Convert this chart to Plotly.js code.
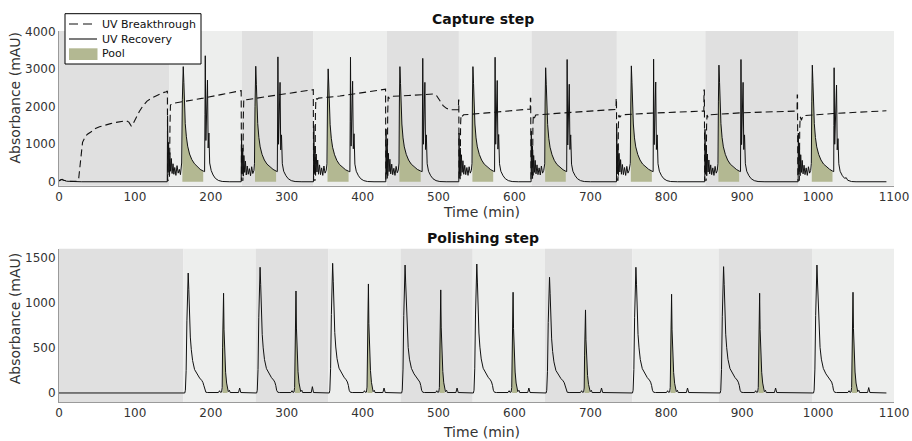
<!DOCTYPE html>
<html><head><meta charset="utf-8">
<script src="https://cdn.plot.ly/plotly-3.0.1.min.js"></script>
<style>html,body{margin:0;padding:0;background:#fff;}#chart{width:912px;height:441px;}</style>
</head><body><div id="chart"></div>
<script>
// ---------- Capture step: UV Breakthrough (time, mAU) ----------
const capBreakC0 = [[0,30],[3,60],[6,40],[10,20],[15,10],[20,10],[24,15],[26,100],[27.5,450],[29,800],[31,1050],[33.6,1157],[37,1260],[42.4,1333],[48,1420],[53.4,1467],[60,1510],[68,1550],[75.4,1583],[82,1610],[88.6,1630],[92,1590],[95.2,1485],[98,1560],[101.8,1733],[106,1880],[110.5,2019],[116,2150],[123.7,2250],[130,2320],[136,2370],[141.3,2400],[142.8,2420]];
const capBreakC1 = [[143.1,40],[145.5,40],[146.2,1500],[146.8,2045],[150,2090],[163,2133],[190,2230],[215,2330],[238,2419],[240,2430]];
const capBreakC2 = [[240.4,40],[242.3,40],[242.8,1700],[243.4,2180],[245,2150],[247,2185],[270,2260],[300,2350],[332.4,2445],[335,2455]];
const capBreakC3 = [[335.4,40],[337.3,40],[337.8,1800],[338.4,2224],[340,2200],[342,2230],[370,2285],[400,2380],[427,2464],[430.2,2470]];
const capBreakC4 = [[430.6,40],[432.5,40],[433,1800],[433.6,2267],[435,2230],[437,2275],[460,2300],[493,2340],[497,2310],[501.6,2179],[506,2030],[510.4,1957],[516,1918],[524,1920],[526.2,1925],[526.4,2180],[526.7,2180]];
const capBreakC5 = [[527,40],[528.5,40],[529,1500],[529.6,1779],[531,1740],[533,1785],[560,1830],[590,1880],[620.8,1939],[621,2224],[621.4,2224]];
const capBreakC6 = [[621.8,40],[623.8,40],[624.3,1500],[624.9,1779],[626.3,1700],[628,1780],[660,1830],[700,1880],[733.8,1930],[734,2224],[734.4,2224]];
const capBreakC7 = [[734.8,40],[736.4,40],[736.9,1500],[737.5,1779],[739,1720],[741,1785],[780,1830],[820,1865],[849.5,1885],[849.7,2445],[850.2,2445]];
const capBreakC8 = [[850.6,40],[852.6,40],[853.1,1500],[853.7,1779],[855,1720],[857,1785],[900,1840],[940,1870],[972.3,1885],[972.5,2312],[972.9,2312]];
const capBreakC9 = [[973.3,40],[975.3,40],[975.8,1400],[976.4,1734],[978,1640],[980,1760],[1020,1820],[1060,1860],[1090,1893]];

// ---------- Capture step: UV Recovery (time, mAU) ----------
const capRecBase = [[0,20],[2,45],[4,70],[6,45],[8,30],[10,15],[14,10],[20,5],[30,0],[142.6,0]];
const capRecC1 = [[143,1750],[143.7,250],[144.4,1050],[145.2,180],[146,780],[147,280],[148,620],[149,220],[150.2,480],[151.3,200],[152.5,380],[154,170],[155.5,430],[157,230],[158.5,330],[160,190],[161.6,500],[162.5,2200],[163.7,3070],[164.5,2650],[165.3,2000],[166.3,1550],[167.8,1200],[169.5,950],[172,740],[175,590],[178.5,480],[182,400],[186,330],[190,285],[191.8,270],[192.3,1800],[192.7,3360],[193.5,1100],[194.5,2000],[195.6,2710],[196.5,900],[197.5,1300],[198.5,500],[200.5,300],[203,180],[206,90],[210,35],[215,8],[225,0],[240,0]];
const capRecC2 = [[240.5,1250],[241.2,200],[242,900],[242.8,150],[243.6,700],[244.6,250],[245.6,550],[246.7,180],[248,420],[249.3,200],[250.8,350],[252.3,160],[253.8,400],[255.3,220],[256.8,300],[257.5,480],[258.2,2000],[259.2,3080],[260,2600],[260.8,2000],[261.8,1550],[263.3,1180],[265,930],[267.5,730],[270.5,580],[274,470],[278,390],[282,330],[286,285],[287.6,270],[288,1700],[288.4,3330],[289.2,1000],[290.2,1900],[291.2,2650],[292.1,850],[293.1,1250],[294.2,480],[296,280],[299,160],[302,80],[306,30],[311,6],[320,0],[335.2,0]];
const capRecC3 = [[335.7,1500],[336.4,220],[337.2,950],[338,170],[338.8,740],[339.8,260],[340.8,580],[341.9,200],[343.2,450],[344.5,190],[346,370],[347.5,170],[349,420],[350.5,230],[352,300],[353,480],[353.7,2100],[354.6,3010],[355.4,2580],[356.2,1950],[357.2,1520],[358.7,1160],[360.4,920],[363,720],[366,570],[369.5,460],[373.5,380],[377.5,320],[381.5,280],[383.2,265],[383.6,1600],[384,3320],[384.8,950],[385.8,1950],[386.8,2680],[387.7,880],[388.7,1280],[389.8,470],[391.6,280],[394.5,160],[397.5,80],[401.5,30],[406.5,6],[415,0],[430.5,0]];
const capRecC4 = [[430.8,1400],[431.5,200],[432.3,1000],[433.1,160],[433.9,760],[434.9,270],[435.9,600],[437,210],[438.3,470],[439.6,190],[441.1,360],[442.6,170],[444.1,410],[445.6,240],[447,310],[447.9,500],[448.4,2100],[449.1,3070],[449.9,2620],[450.7,2000],[451.7,1540],[453.2,1170],[454.9,930],[457.5,730],[460.5,580],[464,470],[468,390],[472,330],[476.5,285],[478.4,270],[478.8,1700],[479.2,3290],[480,1000],[481,1950],[482,2650],[482.9,860],[483.9,1250],[485,480],[486.8,280],[489.7,160],[492.7,80],[496.7,30],[501.7,6],[510,0],[526.7,0]];
const capRecC5 = [[527,1300],[527.7,210],[528.5,900],[529.3,160],[530.1,720],[531.1,250],[532.1,560],[533.2,200],[534.5,440],[535.8,190],[537.3,380],[538.8,170],[540.3,400],[541.8,230],[543.2,300],[544.1,490],[544.6,2100],[545.3,3070],[546.1,2620],[546.9,2000],[547.9,1540],[549.4,1170],[551.1,930],[553.7,730],[556.7,580],[560.2,470],[564.2,390],[568.2,330],[572,285],[573.8,270],[574.1,1700],[574.5,3320],[575.3,1000],[576.3,1950],[577.3,2700],[578.2,870],[579.2,1260],[580.3,480],[582.1,280],[585,160],[588,80],[592,30],[597,6],[605,0],[621.9,0]];
const capRecC6 = [[622.2,1350],[622.9,190],[623.7,950],[624.5,170],[625.3,700],[626.3,250],[627.3,570],[628.4,210],[629.7,450],[631,190],[632.5,370],[634,180],[635.5,420],[637,230],[638.5,300],[639.9,480],[640.4,2100],[641.1,3040],[641.9,2600],[642.7,1980],[643.7,1530],[645.2,1160],[646.9,920],[649.5,720],[652.5,570],[656,460],[660,380],[664,320],[667.6,280],[668.8,270],[669.1,1700],[669.4,3260],[670.2,980],[671.2,1900],[672.2,2600],[673.1,860],[674.1,1250],[675.2,470],[677,280],[680,160],[683,80],[687,30],[692,6],[700,0],[734.4,0]];
const capRecC7 = [[734.7,1450],[735.4,210],[736.2,1000],[737,170],[737.8,760],[738.8,260],[739.8,590],[740.9,200],[742.2,460],[743.5,190],[745,380],[746.5,170],[748,410],[749.5,230],[751,300],[752.6,490],[753.3,2100],[754,3090],[754.8,2640],[755.6,2000],[756.6,1540],[758.1,1170],[759.8,930],[762.4,730],[765.4,580],[768.9,470],[772.9,390],[776.9,330],[781,285],[782.7,270],[783,1700],[783.3,3270],[784.1,990],[785.1,1950],[786.1,2660],[787,860],[788,1250],[789.1,480],[790.9,280],[793.8,160],[796.8,80],[800.8,30],[805.8,6],[815,0],[850.7,0]];
const capRecC8 = [[851,1400],[851.7,200],[852.5,980],[853.3,160],[854.1,740],[855.1,260],[856.1,580],[857.2,210],[858.5,450],[859.8,190],[861.3,370],[862.8,170],[864.3,410],[865.8,230],[867.2,300],[868.1,490],[868.7,2150],[869.4,3110],[870.2,2650],[871,2010],[872,1550],[873.5,1180],[875.2,930],[877.8,730],[880.8,580],[884.3,470],[888.3,390],[892.3,330],[896,285],[897.8,270],[898.1,1700],[898.4,3260],[899.2,990],[900.2,1950],[901.2,2650],[902.1,860],[903.1,1250],[904.2,480],[906,280],[908.9,160],[911.9,80],[915.9,30],[920.9,6],[930,0],[973.7,0]];
const capRecC9 = [[974,1300],[974.7,200],[975.5,950],[976.3,160],[977.1,720],[978.1,250],[979.1,570],[980.2,210],[981.5,440],[982.8,190],[984.3,370],[985.8,170],[987.3,400],[988.8,230],[990.2,300],[991.1,490],[991.7,2150],[992.4,3110],[993.2,2650],[994,2010],[995,1550],[996.5,1180],[998.2,930],[1000.8,730],[1003.8,580],[1007.3,470],[1011.3,390],[1015.3,330],[1019,285],[1020.6,270],[1020.8,1500],[1021.1,3040],[1021.9,1000],[1023,1800],[1024.3,2580],[1025.2,850],[1026.2,1150],[1027.3,480],[1029,280],[1032,160],[1035,90],[1037,110],[1039,40],[1044,6],[1050,0],[1090,0]];

// Pool windows (capture)
const capPoolStart = [162.5, 258.2, 353.7, 448.4, 544.6, 640.4, 753.3, 868.7, 991.7];
const capPoolEnd   = [190, 286, 381.5, 476.5, 572, 667.6, 781, 896, 1019];
// Background band edges (capture)
const capBandEdges = [0, 145.6, 240.9, 335.3, 431.9, 526.8, 622.5, 734.9, 851.4, 974.3, 1100];

// ---------- Polishing step: UV Recovery (time, mAU) ----------
const polRecBase = [[0,0],[165.7,0]];
const polRecC1 = [[166.5,30],[167.5,250],[168.5,800],[169.5,1200],[170.2,1330],[171,1150],[172,850],[173,620],[174.3,480],[176,360],[178.6,260],[182,205],[185.2,166],[188,140],[189.6,117],[190.9,80],[192,30],[193.5,8],[196,5],[210,5],[211.5,25],[212.5,8],[214.2,10],[215,60],[215.5,500],[216.2,950],[216.8,1106],[217.4,700],[218.2,420],[219.5,230],[220.8,110],[222,40],[223,15],[224.5,30],[225.5,5],[236.5,5],[238,55],[239.5,5],[260.4,0]];
const polRecC2 = [[261.2,30],[262.2,260],[263.2,840],[264.2,1260],[264.9,1394],[265.7,1200],[266.7,890],[267.7,650],[269,500],[270.7,370],[273.3,270],[276.7,210],[279.9,170],[282.7,143],[284.3,120],[285.6,82],[286.7,30],[288.2,8],[290.7,5],[305.5,5],[307,25],[308,8],[309.6,10],[310.4,60],[310.9,510],[311.6,970],[312.2,1131],[312.8,720],[313.6,430],[314.9,235],[316.2,112],[317.4,40],[318.4,15],[319.9,30],[320.9,5],[332.3,5],[333.8,70],[335.3,5],[356,0]];
const polRecC3 = [[356.8,30],[357.8,270],[358.8,870],[359.8,1300],[360.5,1438],[361.3,1240],[362.3,920],[363.3,670],[364.6,510],[366.3,380],[368.9,275],[372.3,215],[375.5,175],[378.3,146],[379.9,122],[381.2,84],[382.3,30],[383.8,8],[386.3,5],[400.9,5],[402.4,25],[403.4,8],[405,10],[405.8,65],[406.3,540],[407,1040],[407.6,1209],[408.2,770],[409,460],[410.3,250],[411.6,118],[412.8,42],[413.8,15],[415.3,30],[416.3,5],[426.7,5],[428.2,55],[429.7,5],[451.4,0]];
const polRecC4 = [[452.2,30],[453.2,265],[454.2,860],[455.2,1280],[455.9,1419],[456.7,1220],[457.7,910],[458.7,660],[460,505],[461.7,375],[464.3,272],[467.7,212],[470.9,172],[473.7,145],[475.3,121],[476.6,83],[477.7,30],[479.2,8],[481.7,5],[496.2,5],[497.7,25],[498.7,8],[500.3,10],[501.1,60],[501.6,515],[502.3,980],[502.9,1143],[503.5,730],[504.3,435],[505.6,238],[506.9,113],[508.1,40],[509.1,15],[510.6,30],[511.6,5],[522.9,5],[524.4,55],[525.9,5],[545.9,0]];
const polRecC5 = [[546.7,30],[547.7,268],[548.7,865],[549.7,1290],[550.4,1430],[551.2,1230],[552.2,915],[553.2,665],[554.5,508],[556.2,378],[558.8,274],[562.2,214],[565.4,174],[568.2,146],[569.8,122],[571.1,84],[572.2,30],[573.7,8],[576.2,5],[591.5,5],[593,25],[594,8],[595.6,10],[596.4,60],[596.9,505],[597.6,960],[598.2,1117],[598.8,715],[599.6,425],[600.9,232],[602.2,110],[603.4,40],[604.4,15],[605.9,30],[606.9,5],[617.5,5],[619,55],[620.5,5],[641.7,0]];
const polRecC6 = [[642.5,30],[643.5,240],[644.5,780],[645.5,1160],[646.2,1283],[647,1100],[648,820],[649,600],[650.3,460],[652,345],[654.6,250],[658,196],[661.2,160],[664,135],[665.6,113],[666.9,78],[668,30],[669.5,8],[672,5],[687,5],[688.5,25],[689.5,8],[691.1,10],[691.9,55],[692.4,420],[693.1,800],[693.6,921],[694.2,590],[695,355],[696.3,195],[697.6,95],[698.8,35],[699.8,15],[701.3,30],[702.3,5],[713.2,5],[714.7,55],[716.2,5],[755.5,0]];
const polRecC7 = [[756.3,30],[757.3,260],[758.3,840],[759.3,1260],[760,1394],[760.8,1200],[761.8,890],[762.8,650],[764.1,500],[765.8,370],[768.4,270],[771.8,210],[775,170],[777.8,143],[779.4,120],[780.7,82],[781.8,30],[783.3,8],[785.8,5],[800.3,5],[801.8,25],[802.8,8],[804.4,10],[805.2,60],[805.7,495],[806.4,940],[807,1095],[807.6,700],[808.4,418],[809.7,228],[811,108],[812.2,40],[813.2,15],[814.7,30],[815.7,5],[826.5,5],[828,55],[829.5,5],[871,0]];
const polRecC8 = [[871.8,30],[872.8,262],[873.8,845],[874.8,1265],[875.5,1401],[876.3,1205],[877.3,895],[878.3,652],[879.6,502],[881.3,372],[883.9,271],[887.3,211],[890.5,171],[893.3,144],[894.9,120],[896.2,82],[897.3,30],[898.8,8],[901.3,5],[916.3,5],[917.8,25],[918.8,8],[920.4,10],[921.2,60],[921.7,500],[922.4,950],[923,1106],[923.6,705],[924.4,422],[925.7,230],[927,110],[928.2,40],[929.2,15],[930.7,30],[931.7,5],[942.5,5],[944,55],[945.5,5],[994,0]];
const polRecC9 = [[994.8,30],[995.8,265],[996.8,860],[997.8,1280],[998.5,1419],[999.3,1220],[1000.3,910],[1001.3,660],[1002.6,505],[1004.3,375],[1006.9,272],[1010.3,212],[1013.5,172],[1016.3,145],[1017.9,121],[1019.2,83],[1020.3,30],[1021.8,8],[1024.3,5],[1039.3,5],[1040.8,25],[1041.8,8],[1043.4,10],[1044.2,60],[1044.7,505],[1045.4,960],[1046,1117],[1046.6,715],[1047.4,425],[1048.7,232],[1050,110],[1051.2,40],[1052.2,15],[1053.7,30],[1054.7,5],[1065.2,5],[1066.7,60],[1068.2,5],[1090,0]];

// Pool windows (polishing)
const polPoolStart = [215.5, 310.9, 406.3, 501.6, 596.9, 692.4, 805.7, 921.7, 1044.7];
const polPoolEnd   = [222, 317.4, 412.8, 508.1, 603.4, 698.8, 812.2, 928.2, 1051.2];
// Background band edges (polishing)
const polBandEdges = [0, 164, 259, 355, 450, 545, 640, 755, 869, 992, 1100];

// Ticks and legend labels
const xTicks = [0,100,200,300,400,500,600,700,800,900,1000,1100];
const capYTicks = [0,1000,2000,3000,4000];
const polYTicks = [0,500,1000,1500];
const legendLabels = ['UV Breakthrough','UV Recovery','Pool'];

// ---------- build ----------
const capBreak = [].concat(capBreakC0,capBreakC1,capBreakC2,capBreakC3,capBreakC4,capBreakC5,capBreakC6,capBreakC7,capBreakC8,capBreakC9);
const capRec = [].concat(capRecBase,capRecC1,capRecC2,capRecC3,capRecC4,capRecC5,capRecC6,capRecC7,capRecC8,capRecC9);
const polRec = [].concat(polRecBase,polRecC1,polRecC2,polRecC3,polRecC4,polRecC5,polRecC6,polRecC7,polRecC8,polRecC9);

function poolPoly(pts, starts, ends){
  const x=[], y=[];
  for(let k=0;k<starts.length;k++){
    x.push(starts[k]); y.push(0);
    pts.forEach(p=>{ if(p[0]>=starts[k]-1e-9 && p[0]<=ends[k]+1e-9){ x.push(p[0]); y.push(p[1]); } });
    x.push(ends[k]); y.push(0);
    x.push(null); y.push(null);
  }
  return {x,y};
}
const capPool = poolPoly(capRec, capPoolStart, capPoolEnd);
const polPool = poolPoly(polRec, polPoolStart, polPoolEnd);

const DARK='#e0e0e0', LIGHT='#edeeed', POOL='#b3b892', LINE='#111111';
const DASH='7px,4px';
const H=441, T=31, B=39, L=59, R=18;
const PH=H-T-B, PW=912-L-R;
const py = px => (H-B-px)/PH;   // pixel row -> paper y
const pxX = px => (px-L)/PW;    // pixel col -> paper x

const shapes=[];
function bands(edges, xref, yref){
  for(let i=0;i<edges.length-1;i++){
    shapes.push({type:'rect', layer:'below', xref:xref, yref:yref, x0:edges[i], x1:edges[i+1], y0:0, y1:1,
      fillcolor: i%2===0?DARK:LIGHT, line:{width:0}});
  }
}
bands(capBandEdges,'x','y domain');
bands(polBandEdges,'x2','y2 domain');

// compact legend box (paper coordinates)
shapes.push({type:'rect', layer:'above', xref:'paper', yref:'paper', x0:pxX(65), x1:pxX(201), y0:py(64), y1:py(13.7), fillcolor:'#ffffff', line:{color:'#000000', width:1}});
shapes.push({type:'line', layer:'above', xref:'paper', yref:'paper', x0:pxX(69), x1:pxX(96), y0:py(24), y1:py(24), line:{color:LINE, width:1.1, dash:'9px,5px'}});
shapes.push({type:'line', layer:'above', xref:'paper', yref:'paper', x0:pxX(69), x1:pxX(97), y0:py(39), y1:py(39), line:{color:LINE, width:1.1}});
shapes.push({type:'rect', layer:'above', xref:'paper', yref:'paper', x0:pxX(69), x1:pxX(97.5), y0:py(60), y1:py(48.3), fillcolor:POOL, line:{width:0}});
const legendRows=[24,39,54];

const traces=[
  {x:capPool.x, y:capPool.y, xaxis:'x', yaxis:'y', type:'scatter', mode:'none', fill:'toself', fillcolor:POOL, name:legendLabels[2], hoverinfo:'skip'},
  {x:capBreak.map(p=>p[0]), y:capBreak.map(p=>p[1]), xaxis:'x', yaxis:'y', type:'scatter', mode:'lines', line:{color:LINE,width:1.1,dash:DASH}, name:legendLabels[0]},
  {x:capRec.map(p=>p[0]), y:capRec.map(p=>p[1]), xaxis:'x', yaxis:'y', type:'scatter', mode:'lines', line:{color:LINE,width:1}, name:legendLabels[1]},
  {x:polPool.x, y:polPool.y, xaxis:'x2', yaxis:'y2', type:'scatter', mode:'none', fill:'toself', fillcolor:POOL, name:'Pool (polishing)', hoverinfo:'skip'},
  {x:polRec.map(p=>p[0]), y:polRec.map(p=>p[1]), xaxis:'x2', yaxis:'y2', type:'scatter', mode:'lines', line:{color:LINE,width:1}, name:'UV (polishing)'}
];

const FONT='DejaVu Sans';
const axCommon = {showgrid:false, zeroline:false, showline:true, linecolor:'#9a9a9a', linewidth:1, ticks:'', tickfont:{family:FONT,size:12,color:'#333'}, fixedrange:true};

const annotations=[
  {text:'<b>Capture step</b>', xref:'paper', yref:'paper', x:pxX(483), y:py(19.5), showarrow:false, xanchor:'center', yanchor:'middle', font:{family:FONT,size:14,color:'#111'}},
  {text:'<b>Polishing step</b>', xref:'paper', yref:'paper', x:pxX(483), y:py(237.5), showarrow:false, xanchor:'center', yanchor:'middle', font:{family:FONT,size:14,color:'#111'}},
  {text:'Time (min)', xref:'paper', yref:'paper', x:pxX(481), y:py(212), showarrow:false, xanchor:'center', yanchor:'middle', font:{family:FONT,size:14,color:'#333'}},
  {text:'Time (min)', xref:'paper', yref:'paper', x:pxX(481), y:py(432), showarrow:false, xanchor:'center', yanchor:'middle', font:{family:FONT,size:14,color:'#333'}},
  {text:'Absorbance (mAU)', xref:'paper', yref:'paper', x:pxX(15), y:py(97.5), showarrow:false, textangle:-90, xanchor:'center', yanchor:'middle', font:{family:FONT,size:14,color:'#333'}},
  {text:'Absorbance (mAU)', xref:'paper', yref:'paper', x:pxX(15), y:py(318.3), showarrow:false, textangle:-90, xanchor:'center', yanchor:'middle', font:{family:FONT,size:14,color:'#333'}}
];
legendLabels.forEach((lab,i)=>{
  annotations.push({text:lab, xref:'paper', yref:'paper', x:pxX(99.5), y:py(legendRows[i]), showarrow:false, xanchor:'left', yanchor:'middle', font:{family:FONT,size:11,color:'#111'}});
});

const layout = {
  width:912, height:441,
  margin:{l:L,r:R,t:T,b:B,pad:0},
  paper_bgcolor:'#ffffff', plot_bgcolor:'rgba(0,0,0,0)',
  font:{family:FONT,size:12,color:'#333'},
  showlegend:false,
  xaxis: Object.assign({}, axCommon, {domain:[0,1], anchor:'y', range:[0,1100], tickvals:xTicks}),
  yaxis: Object.assign({}, axCommon, {domain:[py(185.7),1], anchor:'x', range:[-105,4020], tickvals:capYTicks}),
  xaxis2: Object.assign({}, axCommon, {domain:[0,1], anchor:'y2', range:[0,1100], tickvals:xTicks}),
  yaxis2: Object.assign({}, axCommon, {domain:[0,py(248.7)], anchor:'x2', range:[-100,1600], tickvals:polYTicks}),
  shapes: shapes,
  annotations: annotations
};

Plotly.newPlot('chart', traces, layout, {displayModeBar:false, staticPlot:true});
</script>
</body></html>
